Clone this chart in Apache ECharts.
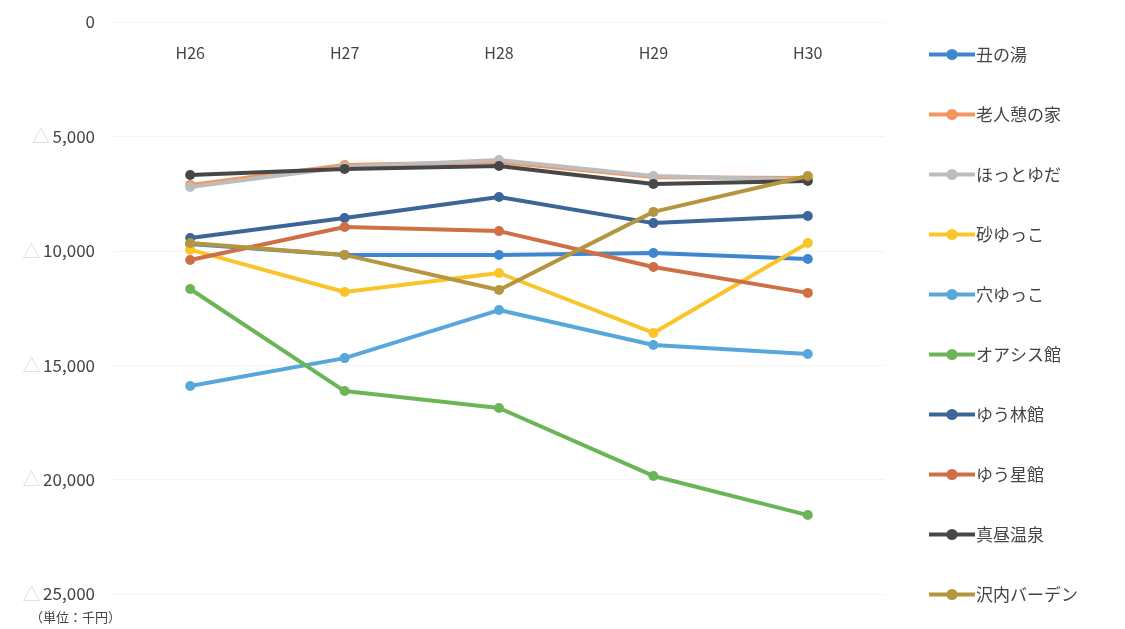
<!DOCTYPE html>
<html>
<head>
<meta charset="utf-8">
<script src="https://cdn.jsdelivr.net/npm/echarts@6/dist/echarts.min.js"></script>
<style>
  html, body { margin: 0; padding: 0; background: #fff; }
  #chart { width: 1125px; height: 629px; }
</style>
</head>
<body>
<div id="chart"></div>
<script>
// 年度
const years = ['H26', 'H27', 'H28', 'H29', 'H30'];
const seriesNames = ['丑の湯', '老人憩の家', 'ほっとゆだ', '砂ゆっこ', '穴ゆっこ', 'オアシス館', 'ゆう林館', 'ゆう星館', '真昼温泉', '沢内バーデン'];
// 単位：千円（△はマイナス）
const ushinoyu    = [-9700, -10180, -10180, -10100, -10360];
const roujin      = [-7120, -6250, -6120, -6780, -6820];
const hottoyuda   = [-7210, -6340, -6030, -6730, -6900];
const sunayukko   = [-9950, -11800, -10970, -13590, -9660];
const anayukko    = [-15910, -14690, -12590, -14120, -14510];
const oasis       = [-11670, -16130, -16870, -19840, -21550];
const yurinkan    = [-9440, -8570, -7650, -8790, -8480];
const yuseikan    = [-10400, -8960, -9140, -10710, -11840];
const mahiru      = [-6690, -6420, -6290, -7080, -6950];
const sawauchi    = [-9660, -10180, -11710, -8300, -6730];

const seriesData = [ushinoyu, roujin, hottoyuda, sunayukko, anayukko, oasis, yurinkan, yuseikan, mahiru, sawauchi];
const colors = ['#3f86d0', '#f4975e', '#bdbdbd', '#f9c52a', '#58a7dc', '#6cb556', '#3c6698', '#cf6f45', '#474747', '#b4963f'];

const chart = echarts.init(document.getElementById('chart'));
const fontFamily = '"Noto Sans CJK JP", "Noto Sans", sans-serif';

function fmt(v) {
  if (v === 0) return '{num|0}';
  return '{tri|△} {num|' + Math.abs(v).toLocaleString('en-US') + '}';
}

chart.setOption({
  animation: false,
  color: colors,
  textStyle: { fontFamily: fontFamily },
  grid: { left: 113, right: 240, top: 22, bottom: 35 },
  legend: {
    orient: 'vertical',
    left: 922,
    top: 41,
    height: 585,
    itemWidth: 46,
    itemHeight: 14,
    itemGap: 43,
    data: seriesNames,
    lineStyle: { width: 4 },
    textStyle: { fontSize: 17, color: '#444', fontFamily: fontFamily, padding: [0, 0, 0, -4] }
  },
  xAxis: {
    type: 'category',
    position: 'top',
    data: years,
    axisLine: { show: false },
    axisTick: { show: false },
    axisLabel: { inside: true, margin: 23, fontSize: 16, color: '#444', fontFamily: fontFamily }
  },
  yAxis: {
    type: 'value',
    min: -25000,
    max: 0,
    interval: 5000,
    axisLine: { show: false },
    axisTick: { show: false },
    splitLine: { lineStyle: { color: '#f4f4f4' } },
    axisLabel: {
      margin: 18,
      formatter: fmt,
      rich: {
        tri: { fontSize: 18, color: '#dadada', fontFamily: fontFamily },
        num: { fontSize: 17, color: '#444', fontFamily: fontFamily }
      }
    }
  },
  graphic: [{
    type: 'text',
    left: 30,
    top: 611,
    style: { text: '（単位：千円）', fontSize: 13, fill: '#444', fontFamily: fontFamily }
  }],
  series: seriesNames.map((name, i) => ({
    name: name,
    type: 'line',
    data: seriesData[i],
    symbol: 'circle',
    symbolSize: 10,
    lineStyle: { width: 4 }
  }))
});
</script>
</body>
</html>
